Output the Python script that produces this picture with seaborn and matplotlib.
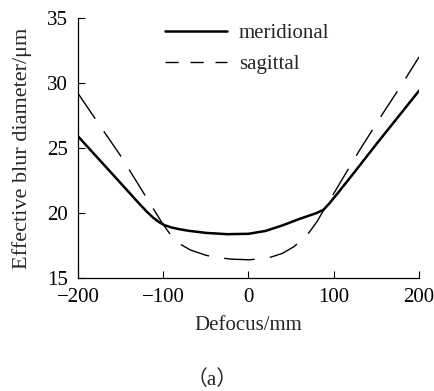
import numpy as np
import pandas as pd
import matplotlib
matplotlib.use("Agg")
import matplotlib.pyplot as plt
from matplotlib.lines import Line2D
import seaborn as sns

# Data
defocus_meridional = [-200, -175, -150, -130, -120, -112, -105, -98, -90, -80, -70, -50, -25, 0, 20, 40, 60, 80, 88, 95, 105, 125, 150, 175, 200]
meridional = [25.9, 24.1, 22.3, 20.85, 20.15, 19.65, 19.3, 19.05, 18.88, 18.74, 18.63, 18.47, 18.37, 18.4, 18.62, 19.05, 19.55, 20.0, 20.25, 20.75, 21.55, 23.2, 25.3, 27.35, 29.4]

defocus_sagittal = [-200, -172, -150, -118, -100, -90, -80, -68, -50, -39, -20, 0, 10, 26, 40, 53, 62, 71, 80, 88, 100, 130, 159, 180, 200]
sagittal = [29.2, 26.5, 24.4, 21.0, 19.1, 18.2, 17.6, 17.15, 16.75, 16.6, 16.45, 16.4, 16.45, 16.6, 16.9, 17.4, 17.9, 18.5, 19.3, 20.2, 21.5, 24.8, 27.8, 29.9, 32.0]

series_names = ["meridional", "sagittal"]
x_ticks = [-200, -100, 0, 100, 200]
y_ticks = [15, 20, 25, 30, 35]

df_m = pd.DataFrame({"x": defocus_meridional, "y": meridional})
df_s = pd.DataFrame({"x": defocus_sagittal, "y": sagittal})

sns.set_style("ticks")
plt.rcParams["font.family"] = ["Liberation Serif", "Noto Sans CJK SC"]

fig = plt.figure(figsize=(4.35, 3.91), dpi=100)
ax = fig.add_axes([78 / 435, 1 - 278 / 391, 341 / 435, 260 / 391])

sns.lineplot(data=df_m, x="x", y="y", ax=ax, color="black", linewidth=1.8, sort=True)
sns.lineplot(data=df_s, x="x", y="y", ax=ax, color="black", linewidth=1.0, sort=True)
ax.lines[-1].set_dashes((22, 11))

ax.set_xlim(-200, 200)
ax.set_ylim(15, 35)
ax.set_xticks(x_ticks)
ax.set_yticks(y_ticks)
ax.set_xticklabels(["\u2212200", "\u2212100", "0", "100", "200"])
ax.tick_params(direction="in", length=5, width=0.8, labelsize=15, colors="black", pad=7)
for s in ["top", "right"]:
    ax.spines[s].set_visible(False)
for s in ["left", "bottom"]:
    ax.spines[s].set_linewidth(0.9)
    ax.spines[s].set_color("black")

ax.set_xlabel("Defocus/mm", fontsize=15, labelpad=7)
ax.set_ylabel("Effective blur diameter/\u03bcm", fontsize=16, labelpad=11)

handles = [
    Line2D([], [], color="black", linewidth=1.8),
    Line2D([], [], color="black", linewidth=1.0, dashes=(9.5, 8.5)),
]
ax.legend(handles, series_names, loc="upper left", bbox_to_anchor=(0.255, 0.978),
          frameon=False, fontsize=15, handlelength=3.0, handletextpad=0.55,
          borderpad=0, borderaxespad=0, labelspacing=0.55)

fig.text(212 / 435, 1 - 380 / 391, "\uff08a\uff09", ha="center", va="center", fontsize=15)

fig.savefig("out.png", dpi=100)
